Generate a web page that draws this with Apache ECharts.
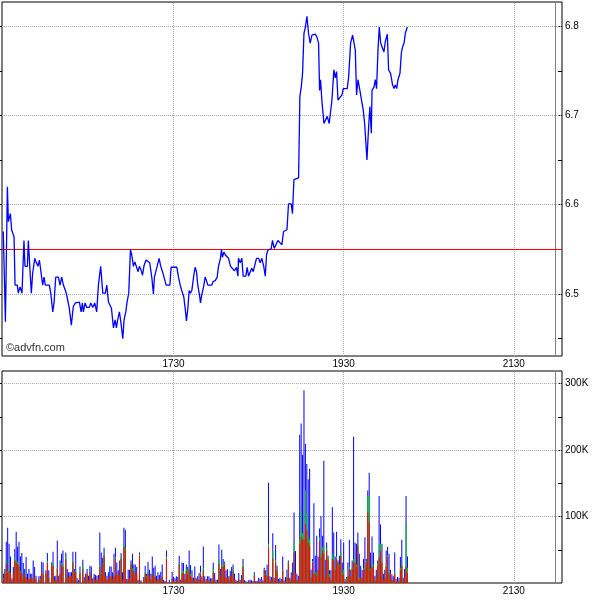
<!DOCTYPE html>
<html><head><meta charset="utf-8">
<script src="https://cdn.jsdelivr.net/npm/echarts@6/dist/echarts.min.js"></script>
<style>html,body{margin:0;padding:0;background:#fff}#c{width:600px;height:600px}</style>
</head><body><div id="c"></div>
<script>
// time axis values are minutes after midnight (1050 = 17:30)
const xLabelTimes = [1050, 1170, 1290];
const closeMarker = 1319;
const priceLabels = [6.5, 6.6, 6.7, 6.8];
const priceTicks = [6.45, 6.5, 6.55, 6.6, 6.65, 6.7, 6.75, 6.8];
const prevClose = 6.55;
const volLabels = [100000, 200000, 300000];
const volTicks = [50000, 100000, 150000, 200000, 250000, 300000];

// [minute, price]
const pricePoints = [
[929.9,6.570],[931.4,6.469],[932.8,6.620],[933.5,6.581],[934.9,6.590],[935.8,6.572],[936.5,6.570],[937.5,6.564],[938.2,6.510],[939.8,6.510],
[940.5,6.501],[941.7,6.508],[943.1,6.501],[944.5,6.560],[945.2,6.531],[946.9,6.531],[947.6,6.560],[948.8,6.525],[949.7,6.501],[950.6,6.523],
[952.1,6.540],[953.0,6.536],[954.4,6.531],[955.4,6.538],[956.5,6.540],[957.7,6.510],[958.6,6.519],[959.6,6.510],[962.4,6.510],[963.4,6.501],
[964.8,6.480],[965.7,6.490],[966.9,6.519],[968.8,6.519],[969.9,6.510],[971.1,6.519],[972.3,6.510],[973.9,6.503],[974.6,6.499],[976.5,6.484],
[977.9,6.465],[979.3,6.486],[980.8,6.490],[982.2,6.488],[983.6,6.491],[984.8,6.480],[985.7,6.490],[986.4,6.480],[987.6,6.490],[988.8,6.485],
[990.6,6.485],[991.6,6.490],[993.0,6.485],[994.4,6.490],[995.8,6.480],[997.0,6.510],[997.7,6.510],[998.6,6.531],[1000.1,6.501],[1001.9,6.501],
[1002.9,6.510],[1004.1,6.491],[1005.2,6.493],[1006.2,6.484],[1007.6,6.462],[1008.8,6.471],[1009.7,6.462],[1010.6,6.471],[1011.8,6.480],[1012.8,6.469],
[1014.2,6.450],[1015.1,6.471],[1016.3,6.480],[1017.2,6.491],[1018.4,6.501],[1019.6,6.550],[1020.5,6.544],[1021.7,6.531],[1022.7,6.536],[1025.0,6.525],
[1025.9,6.531],[1027.1,6.527],[1028.1,6.521],[1029.2,6.532],[1030.6,6.538],[1031.8,6.540],[1033.2,6.535],[1034.7,6.518],[1035.8,6.500],[1036.5,6.519],
[1037.7,6.519],[1038.6,6.532],[1039.8,6.540],[1041.0,6.531],[1042.2,6.525],[1043.6,6.524],[1044.8,6.510],[1047.4,6.510],[1048.3,6.530],[1052.3,6.530],
[1053.5,6.519],[1054.7,6.510],[1055.8,6.504],[1057.2,6.497],[1058.2,6.484],[1059.1,6.470],[1060.1,6.484],[1061.0,6.504],[1061.9,6.501],[1062.9,6.504],
[1064.3,6.521],[1065.2,6.530],[1066.2,6.525],[1067.1,6.510],[1068.3,6.499],[1069.0,6.490],[1069.9,6.499],[1071.4,6.510],[1072.3,6.519],[1073.2,6.515],
[1074.2,6.510],[1077.0,6.510],[1077.9,6.514],[1079.4,6.515],[1080.8,6.519],[1081.7,6.531],[1083.1,6.540],[1083.8,6.550],[1084.5,6.541],[1085.5,6.547],
[1086.4,6.544],[1087.4,6.542],[1088.8,6.540],[1090.2,6.531],[1091.6,6.530],[1093.0,6.526],[1094.4,6.530],[1095.4,6.520],[1095.8,6.540],[1097.0,6.535],
[1098.2,6.540],[1099.1,6.520],[1101.0,6.520],[1101.9,6.530],[1102.9,6.520],[1104.1,6.525],[1105.2,6.529],[1106.2,6.525],[1107.1,6.531],[1108.5,6.540],
[1110.0,6.540],[1111.1,6.535],[1112.3,6.540],[1113.7,6.530],[1114.7,6.520],[1115.6,6.544],[1116.5,6.549],[1117.9,6.547],[1118.9,6.551],[1119.8,6.560],
[1121.0,6.551],[1122.2,6.551],[1123.6,6.560],[1125.0,6.560],[1126.4,6.555],[1127.6,6.570],[1130.0,6.572],[1131.1,6.601],[1133.0,6.601],[1133.9,6.590],
[1134.9,6.628],[1136.3,6.630],[1138.2,6.630],[1139.1,6.721],[1140.1,6.732],[1141.0,6.747],[1142.0,6.792],[1142.9,6.798],[1144.1,6.811],[1145.2,6.792],
[1146.4,6.781],[1147.6,6.790],[1149.0,6.789],[1149.9,6.791],[1151.1,6.788],[1152.3,6.781],[1153.0,6.728],[1153.7,6.740],[1154.6,6.717],[1156.1,6.691],
[1157.0,6.690],[1158.4,6.699],[1159.8,6.691],[1160.8,6.690],[1161.7,6.717],[1163.1,6.751],[1164.1,6.742],[1165.0,6.749],[1166.0,6.717],[1167.4,6.719],
[1168.8,6.723],[1169.7,6.730],[1172.5,6.730],[1173.5,6.743],[1174.9,6.781],[1176.3,6.790],[1177.2,6.791],[1178.2,6.773],[1179.1,6.723],[1180.1,6.740],
[1181.0,6.732],[1182.4,6.730],[1183.8,6.706],[1184.8,6.691],[1185.7,6.669],[1186.4,6.650],[1187.6,6.687],[1188.5,6.710],[1189.5,6.680],[1190.0,6.728],
[1191.4,6.732],[1192.3,6.740],[1193.2,6.730],[1194.2,6.773],[1195.1,6.799],[1196.1,6.781],[1197.0,6.779],[1198.4,6.771],[1199.4,6.783],[1200.8,6.791],
[1201.7,6.751],[1203.1,6.747],[1204.5,6.734],[1205.5,6.730],[1206.4,6.734],[1207.4,6.730],[1208.3,6.740],[1209.7,6.747],[1210.7,6.770],[1211.6,6.777],
[1212.6,6.781],[1213.5,6.792],[1214.9,6.799]
];

// [minute, total K, red K, green K]  (blue = the rest, on top)
const volumeRows = [
[930,14,6,1],[931,21,14,1],[932,62,29,5],[933,83,16,2],[934,59,18,2],[935,40,14,1],[936,7,3,0],[937,24,14,0],[938,51,34,4],[939,77,31,4],
[940,55,29,3],[941,62,25,3],[942,40,16,2],[943,45,14,2],[944,30,8,1],[945,21,14,0],[946,39,9,1],[947,14,5,0],[948,21,6,0],[949,14,8,0],
[950,14,8,0],[951,34,6,0],[952,24,9,0],[953,11,5,0],[955,10,4,0],[956,11,4,2],[957,32,16,0],[958,31,13,0],[960,19,14,0],[961,45,30,3],
[962,19,8,0],[964,31,26,2],[965,47,26,3],[966,10,4,0],[967,11,4,0],[968,64,21,2],[969,11,3,0],[970,34,14,0],[971,44,28,2],[972,49,24,4],
[974,46,36,4],[975,21,9,0],[976,16,8,0],[977,16,11,0],[978,16,10,0],[979,47,31,2],[980,21,16,0],[981,47,16,3],[982,7,2,0],[983,4,1,0],
[984,25,14,1],[986,35,21,6],[987,9,3,0],[988,14,9,0],[989,21,14,0],[990,11,4,0],[991,26,16,2],[992,25,10,0],[993,7,2,0],[994,14,9,0],
[995,12,4,0],[996,11,5,0],[997,12,6,0],[998,76,24,4],[999,46,14,2],[1000,38,29,1],[1001,53,41,2],[1002,16,11,0],[1003,11,5,0],[1004,16,7,0],
[1005,25,9,0],[1006,25,10,0],[1007,16,6,0],[1008,44,11,2],[1009,53,36,3],[1010,31,12,0],[1011,19,16,0],[1012,34,11,0],[1013,45,36,3],[1014,16,5,0],
[1015,83,54,4],[1016,80,49,3],[1017,6,2,0],[1018,20,6,0],[1019,20,7,0],[1020,34,28,2],[1021,44,19,3],[1022,28,18,5],[1023,28,12,0],[1024,24,14,0],
[1025,5,2,0],[1026,46,41,2],[1027,4,2,0],[1029,9,6,0],[1030,26,14,2],[1031,14,8,2],[1032,32,14,2],[1033,20,11,0],[1034,14,6,0],[1035,40,14,2],
[1036,23,11,0],[1037,26,9,0],[1038,11,4,0],[1039,16,6,0],[1040,12,5,0],[1041,17,6,0],[1042,28,10,0],[1043,5,2,0],[1044,3,1,0],[1045,49,36,3],
[1047,5,1,0],[1049,17,6,0],[1050,9,3,0],[1051,7,2,0],[1052,10,4,0],[1053,9,3,0],[1054,41,28,3],[1055,5,2,0],[1056,31,14,5],[1057,30,16,2],
[1058,14,6,0],[1059,28,18,4],[1060,24,14,5],[1061,49,19,3],[1062,27,11,3],[1063,19,8,0],[1064,8,3,0],[1065,25,8,0],[1066,7,2,0],[1067,10,7,0],
[1068,15,5,0],[1069,26,14,3],[1070,10,4,0],[1071,55,19,4],[1072,10,4,0],[1073,6,2,0],[1074,10,5,0],[1075,10,4,0],[1076,7,3,0],[1077,7,2,0],
[1078,31,16,5],[1079,15,5,0],[1080,5,2,0],[1081,5,2,0],[1082,58,29,7],[1083,21,9,0],[1084,50,24,3],[1085,36,25,3],[1086,32,27,3],[1087,19,8,0],
[1088,21,9,0],[1089,10,4,0],[1090,18,11,0],[1091,24,10,0],[1092,28,17,4],[1093,14,5,0],[1094,5,2,0],[1095,3,1,0],[1096,15,6,0],[1097,5,2,0],
[1098,12,5,0],[1099,36,24,3],[1100,4,1,0],[1101,3,1,0],[1102,2,1,0],[1103,4,1,0],[1104,5,2,0],[1105,4,1,0],[1106,3,1,0],[1107,16,11,2],
[1108,3,1,0],[1109,3,1,0],[1110,8,3,0],[1111,6,2,0],[1112,9,4,0],[1113,4,1,0],[1114,23,19,2],[1115,19,12,2],[1116,28,11,1],[1117,151,54,5],
[1118,10,4,0],[1119,9,4,0],[1120,75,37,12],[1121,8,3,0],[1122,57,31,3],[1123,26,19,0],[1124,6,2,0],[1125,8,3,0],[1126,6,3,0],[1127,40,19,2],
[1128,4,1,0],[1129,9,3,0],[1130,20,8,0],[1131,34,31,1],[1132,8,3,0],[1133,16,6,0],[1134,31,12,0],[1135,106,46,15],[1136,48,14,0],[1137,14,5,0],
[1138,11,4,0],[1139,223,59,7],[1140,240,69,40],[1141,193,65,10],[1142,290,66,8],[1143,209,89,50],[1144,179,79,25],[1145,156,61,8],[1146,172,55,10],[1147,20,8,0],
[1148,36,31,2],[1149,120,14,3],[1150,41,14,2],[1151,71,11,3],[1152,40,20,0],[1153,82,64,5],[1154,101,39,6],[1155,71,49,5],[1156,184,44,10],[1157,35,9,0],
[1158,61,49,3],[1159,41,34,3],[1160,19,9,5],[1161,19,5,0],[1162,114,36,8],[1163,76,34,4],[1164,40,20,3],[1165,77,36,4],[1166,34,30,2],[1167,41,26,2],
[1168,66,41,5],[1169,31,12,3],[1170,61,14,6],[1171,6,2,0],[1172,9,3,4],[1173,31,10,0],[1174,65,21,3],[1175,20,10,0],[1176,34,21,2],[1177,220,31,5],
[1178,61,31,6],[1179,59,24,4],[1180,76,56,4],[1181,44,5,3],[1182,26,8,0],[1183,20,8,0],[1184,36,19,3],[1185,69,21,4],[1186,36,31,2],[1187,139,106,24],
[1188,166,91,40],[1189,46,19,3],[1190,70,24,4],[1191,46,26,2],[1192,11,4,0],[1193,20,9,0],[1194,34,26,4],[1195,131,39,20],[1196,88,49,10],[1197,59,31,5],
[1198,14,5,0],[1199,20,8,0],[1200,49,24,4],[1201,54,39,3],[1202,44,14,3],[1203,20,14,0],[1204,13,5,0],[1205,10,4,0],[1206,46,14,2],[1207,6,2,0],
[1208,9,3,0],[1209,8,3,0],[1210,39,19,4],[1211,65,26,5],[1212,8,3,0],[1213,21,8,0],[1214,131,25,65],[1215,40,15,8]
];

const FONT = "'Liberation Sans Narrow','Arial Narrow','Liberation Sans',Arial,sans-serif";
const fmtTime = v => String(Math.floor(v / 60) * 100 + Math.round(v % 60));
const X_MIN = 929, X_MAX = 1324;
const P_MIN = 6.4306, P_MAX = 6.827;
const V_MAX = 319000;

function xAxisFor(gi) {
  return {
    type: 'value', gridIndex: gi, min: X_MIN, max: X_MAX,
    splitLine: { show: false }, axisLine: { show: false }, axisTick: { show: false },
    axisLabel: { customValues: xLabelTimes, formatter: fmtTime, color: '#000', fontSize: 10, fontFamily: FONT, margin: 3 }
  };
}
function yAxisFor(gi, pos, min, max, ticks, labels, fmt) {
  const right = pos === 'right';
  return {
    type: 'value', gridIndex: gi, position: pos, min: min, max: max, scale: true,
    splitLine: { show: false }, axisLine: { show: false },
    axisTick: { show: true, inside: right, length: right ? 4 : 3, customValues: ticks, lineStyle: { color: '#000', width: 1 } },
    axisLabel: right ? { customValues: labels, formatter: fmt, color: '#000', fontSize: 10, fontFamily: FONT, margin: 3 } : { show: false }
  };
}

const gridLine = { color: '#a8a8a8', width: 1, type: [1, 1] };
const vLines = xLabelTimes.map(t => ({ xAxis: t, lineStyle: gridLine }))
  .concat([{ xAxis: closeMarker, lineStyle: { color: '#808080', width: 1, type: 'solid' } }]);

// overlapping volume columns: blue = full volume, green = red+green part, red = red part
const volBlueTop = volumeRows.map(r => [r[0], r[1] * 1000]);
const volGreenTop = volumeRows.map(r => [r[0], (r[2] + r[3]) * 1000]);
const volRedTop = volumeRows.map(r => [r[0], r[2] * 1000]);

function volSeries(data, color, extra) {
  return Object.assign({
    type: 'bar', xAxisIndex: 1, yAxisIndex: 2, barWidth: 1, barGap: '-100%', z: 3,
    data: data, itemStyle: { color: color }
  }, extra || {});
}

const option = {
  animation: false,
  backgroundColor: '#fff',
  grid: [
    { left: 2, top: 2, width: 560, height: 354, show: true, borderColor: '#000', borderWidth: 1, backgroundColor: 'transparent' },
    { left: 2, top: 371, width: 560, height: 212, show: true, borderColor: '#000', borderWidth: 1, backgroundColor: 'transparent' }
  ],
  xAxis: [xAxisFor(0), xAxisFor(1)],
  yAxis: [
    yAxisFor(0, 'right', P_MIN, P_MAX, priceTicks, priceLabels, v => v.toFixed(1)),
    yAxisFor(0, 'left', P_MIN, P_MAX, priceTicks, priceLabels, null),
    yAxisFor(1, 'right', 0, V_MAX, volTicks, volLabels, v => (v / 1000) + 'K'),
    yAxisFor(1, 'left', 0, V_MAX, volTicks, volLabels, null)
  ],
  graphic: [{
    type: 'text', left: 6, top: 342, z: 10,
    style: { text: '©advfn.com', fill: '#303030', font: "11px 'Liberation Sans', Arial, sans-serif" }
  }],
  series: [
    {
      type: 'line', xAxisIndex: 0, yAxisIndex: 0, data: pricePoints,
      showSymbol: false, symbol: 'none', z: 3,
      lineStyle: { color: '#0000ff', width: 1.3 },
      markLine: {
        silent: true, symbol: 'none', z: 1, label: { show: false },
        data: priceLabels.map(v => ({ yAxis: v, lineStyle: gridLine }))
          .concat(vLines)
          .concat([{ yAxis: prevClose, lineStyle: { color: '#ff0000', width: 1.2, type: 'solid' } }])
      }
    },
    volSeries(volBlueTop, '#0000ff', {
      markLine: {
        silent: true, symbol: 'none', z: 1, label: { show: false },
        data: volLabels.map(v => ({ yAxis: v, lineStyle: gridLine })).concat(vLines)
      }
    }),
    volSeries(volGreenTop, '#00d000'),
    volSeries(volRedTop, '#ff0000')
  ]
};
const chart = echarts.init(document.getElementById('c'), null, { renderer: 'canvas' });
chart.setOption(option);
</script>
</body></html>
